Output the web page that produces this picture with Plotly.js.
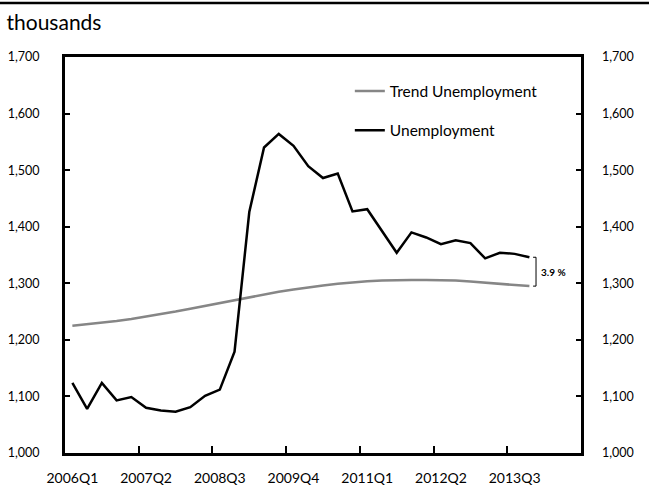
<!DOCTYPE html>
<html>
<head>
<meta charset="utf-8">
<script src="https://cdn.plot.ly/plotly-3.0.1.min.js"></script>
<style>html,body{margin:0;padding:0;background:#fff;}#chart{width:649px;height:489px;}</style>
</head>
<body>
<div id="chart"></div>
<script>
const quarters = [
  "2006Q1","2006Q2","2006Q3","2006Q4","2007Q1","2007Q2","2007Q3","2007Q4",
  "2008Q1","2008Q2","2008Q3","2008Q4","2009Q1","2009Q2","2009Q3","2009Q4",
  "2010Q1","2010Q2","2010Q3","2010Q4","2011Q1","2011Q2","2011Q3","2011Q4",
  "2012Q1","2012Q2","2012Q3","2012Q4","2013Q1","2013Q2","2013Q3","2013Q4",
  "2014Q1","2014Q2","2014Q3"
];
const unemployment = [
  1124,1078,1124,1093,1099,1080,1075,1073,
  1081,1101,1112,1179,1426,1540,1564,1543,
  1507,1486,1494,1427,1431,1393,1354,1390,
  1381,1369,1376,1371,1344,1354,1352,1346
];
const trendUnemployment = [
  1225,1227.5,1230.5,1233.5,1237,1241,1245,1250,
  1255,1260,1266,1271,1276,1281,1285,1289,
  1293,1296,1299,1301.5,1303.5,1305,1306,1306,
  1306,1306,1305,1303,1301,1299,1297,1295
];
const tickEvery = 5;

const idx = unemployment.map((_, i) => i);
const tickvals = [], ticktext = [];
for (let i = 0; i < unemployment.length; i += tickEvery) { tickvals.push(i); ticktext.push(quarters[i]); }
const minorVals = [];
for (let i = tickEvery - 0.5; i < unemployment.length - 1; i += tickEvery) minorVals.push(i);

const FONT = "Lato, 'Open Sans', sans-serif";
const last = unemployment.length - 1;
const uLast = unemployment[last], tLast = trendUnemployment[last];
const gapPct = ((uLast / tLast - 1) * 100).toFixed(1) + " %";

const traces = [
  {x: idx, y: trendUnemployment, name: "Trend Unemployment", type: "scatter", mode: "lines",
   line: {color: "#868686", width: 2.5}, legendgroup: "a"},
  {x: idx, y: unemployment, name: "Unemployment", type: "scatter", mode: "lines",
   line: {color: "#000000", width: 2.5}, legendgroup: "b"}
];

const bx = last + 0.45, bt = last + 0.25;
const layout = {
  width: 649, height: 489,
  margin: {l: 65, r: 68, t: 57, b: 36},
  paper_bgcolor: "#ffffff", plot_bgcolor: "#ffffff",
  separators: ".,",
  font: {family: FONT, color: "#000", size: 13},
  title: {text: "thousands", x: 0.010, xanchor: "left", xref: "container",
          y: 1 - 23/489, yanchor: "middle", yref: "container",
          font: {family: FONT, size: 21, color: "#000"}},
  showlegend: true,
  legend: {x: 0.552, xanchor: "left", y: 0.956, yanchor: "top", bgcolor: "rgba(0,0,0,0)",
           font: {family: FONT, size: 15.5}, traceorder: "grouped", tracegroupgap: 16, itemwidth: 30},
  xaxis: {range: [-0.5, quarters.length - 0.5], tickvals: tickvals, ticktext: ticktext,
          ticks: "", showgrid: false, zeroline: false, showline: true, mirror: true,
          linecolor: "#000", linewidth: 3, tickfont: {family: FONT, size: 14},
          ticklabelstandoff: 10,
          minor: {tickvals: minorVals, ticks: "inside", ticklen: 7, tickwidth: 2, tickcolor: "#000", showgrid: false}},
  yaxis: {range: [1000, 1700], dtick: 100, tickformat: ",d", ticks: "inside", ticklen: 5, tickwidth: 2,
          tickcolor: "#000", showgrid: false, zeroline: false, showline: true, mirror: true,
          linecolor: "#000", linewidth: 3, tickfont: {family: FONT, size: 12.5}, ticklabelstandoff: 20},
  yaxis2: {range: [1000, 1700], dtick: 100, tickformat: ",d", ticks: "inside", ticklen: 5, tickwidth: 2,
          tickcolor: "#000", showgrid: false, zeroline: false, overlaying: "y", side: "right",
          showline: false, tickfont: {family: FONT, size: 12.5}, ticklabelstandoff: 20},
  shapes: [
    {type: "line", xref: "paper", yref: "paper", x0: -65/516, x1: 584/516, y0: (453-3)/396, y1: (453-3)/396,
     line: {color: "#000", width: 2.5}},
    {type: "path", xref: "x", yref: "y",
     path: `M ${bt} ${uLast} L ${bx} ${uLast} L ${bx} ${tLast} L ${bt} ${tLast}`,
     line: {color: "#000", width: 1}}
  ],
  annotations: [
    {x: bx, y: (uLast + tLast) / 2, xref: "x", yref: "y", text: "<b>" + gapPct + "</b>",
     showarrow: false, xanchor: "left", yanchor: "middle", xshift: 3,
     font: {family: FONT, size: 10, color: "#000"}}
  ]
};
// invisible trace to attach the right axis
traces.push({x: [0], y: [1000], yaxis: "y2", mode: "markers", marker: {opacity: 0}, showlegend: false, hoverinfo: "skip"});

Plotly.newPlot("chart", traces, layout, {staticPlot: true, displayModeBar: false});
</script>
</body>
</html>
